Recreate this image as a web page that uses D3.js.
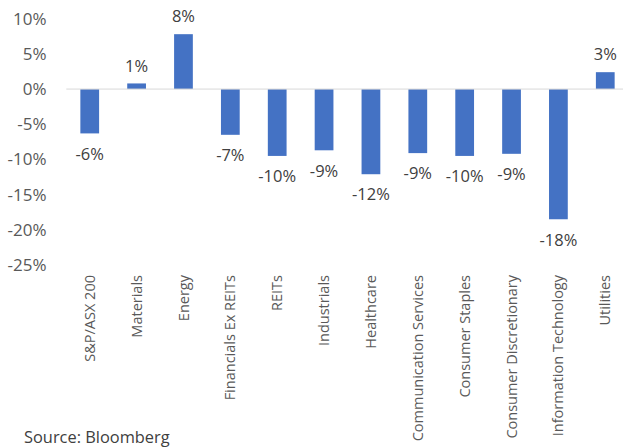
<!DOCTYPE html>
<html>
<head>
<meta charset="utf-8">
<script src="https://cdn.jsdelivr.net/npm/d3@7"></script>
<style>
  body { margin: 0; background: #fff; }
  text { font-family: "Open Sans", sans-serif; }
</style>
</head>
<body>
<div id="chart"></div>
<script>
// sector returns (%)
const categories = ["S&P/ASX 200", "Materials", "Energy", "Financials Ex REITs", "REITs",
  "Industrials", "Healthcare", "Communication Services", "Consumer Staples",
  "Consumer Discretionary", "Information Technology", "Utilities"];
const values = [-6.3, 0.8, 7.8, -6.5, -9.5, -8.7, -12.1, -9.1, -9.5, -9.2, -18.5, 2.4];
const valueLabels = ["-6%", "1%", "8%", "-7%", "-10%", "-9%", "-12%", "-9%", "-10%", "-9%", "-18%", "3%"];
const yTicks = [10, 5, 0, -5, -10, -15, -20, -25];

drawChart();

function drawChart() {
  const width = 623, height = 448;

  const svg = d3.select("#chart")
    .append("svg")
      .attr("width", width)
      .attr("height", height);

  const data = categories.map((c, i) => ({ name: c, value: values[i], label: valueLabels[i] }));

  // x band scale - plot runs a bit past the right edge like the original
  const x = d3.scaleBand()
    .domain(categories)
    .range([66.3, 628.7])
    .paddingInner(0.6)
    .paddingOuter(0.3);

  const y = d3.scaleLinear()
    .domain([-25, 10])
    .range([265, 18.7]);

  // y tick labels (no axis line)
  svg.append("g")
    .selectAll("text")
    .data(yTicks)
    .join("text")
      .attr("x", 46.5)
      .attr("y", d => y(d))
      .attr("dy", "0.35em")
      .attr("text-anchor", "end")
      .style("font-size", "17px")
      .style("fill", "#595959")
      .text(d => d + "%");

  // bars
  svg.append("g")
    .selectAll("rect")
    .data(data)
    .join("rect")
      .attr("x", d => x(d.name))
      .attr("y", d => y(Math.max(0, d.value)))
      .attr("width", x.bandwidth())
      .attr("height", d => Math.abs(y(d.value) - y(0)))
      .attr("fill", "#4472C4");

  // zero line
  svg.append("line")
    .attr("x1", x.range()[0])
    .attr("x2", x.range()[1])
    .attr("y1", y(0))
    .attr("y2", y(0))
    .attr("stroke", "#d9d9d9")
    .attr("stroke-width", 1);

  // value labels
  svg.append("g")
    .selectAll("text")
    .data(data)
    .join("text")
      .attr("x", d => x(d.name) + x.bandwidth() / 2)
      .attr("y", d => d.value < 0 ? y(d.value) + 20.5 : y(d.value) - 17.5)
      .attr("dy", "0.35em")
      .attr("text-anchor", "middle")
      .style("font-size", "16.5px")
      .style("fill", "#404040")
      .text(d => d.label);

  // rotated category labels
  svg.append("g")
    .selectAll("text")
    .data(categories)
    .join("text")
      .attr("transform", d => `translate(${x(d) + x.bandwidth() / 2},275) rotate(-90)`)
      .attr("dy", "0.35em")
      .attr("text-anchor", "end")
      .style("font-size", "14.5px")
      .style("fill", "#595959")
      .text(d => d);

  // source note
  svg.append("text")
    .attr("x", 24)
    .attr("y", 437)
    .attr("dy", "0.35em")
    .style("font-size", "16.4px")
    .style("fill", "#404040")
    .text("Source: Bloomberg");
}
</script>
</body>
</html>
